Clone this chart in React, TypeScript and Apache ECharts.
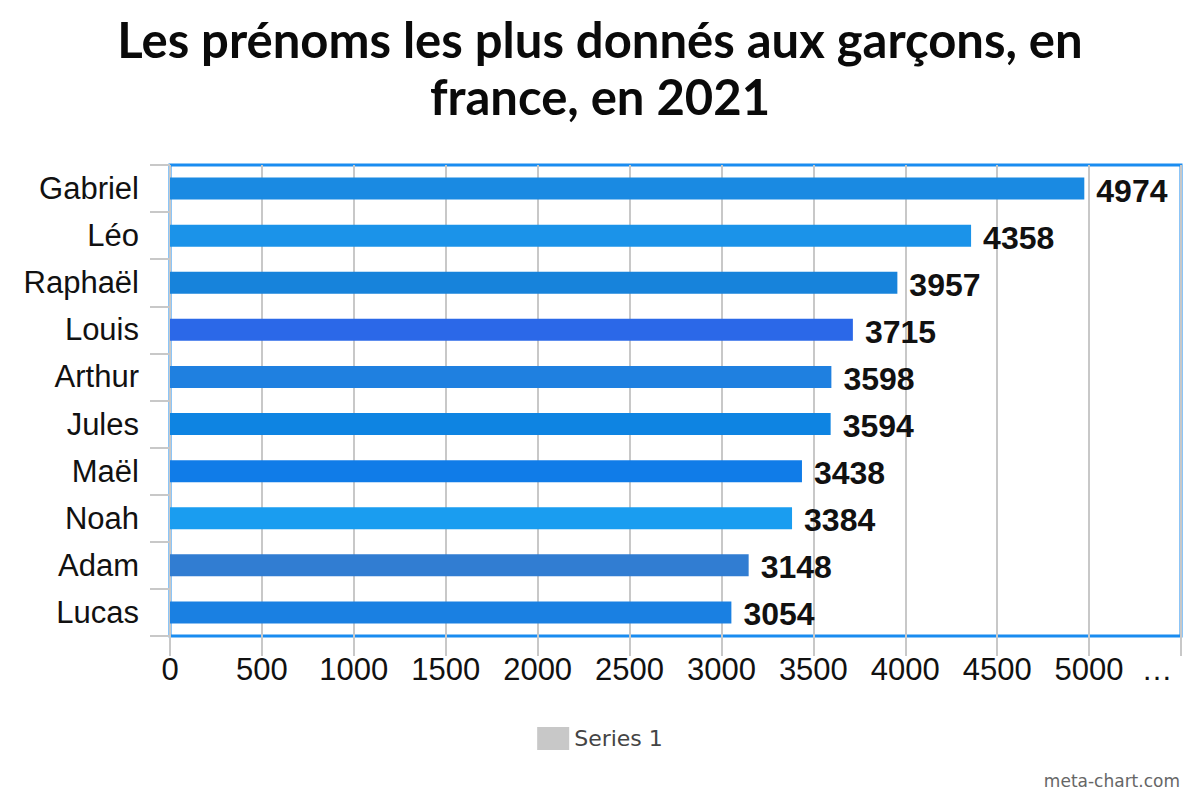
import React, { useEffect, useRef } from "react";
import * as echarts from "echarts";

const categories = ["Gabriel", "Léo", "Raphaël", "Louis", "Arthur", "Jules", "Maël", "Noah", "Adam", "Lucas"];
const values = [4974, 4358, 3957, 3715, 3598, 3594, 3438, 3384, 3148, 3054];
const barColors = ["#1a8ae2", "#1b93e9", "#1783db", "#2b68e8", "#1f80e0", "#0e84e2", "#107ce8", "#1a9df0", "#317dd2", "#1a80e2"];
const titleText = "Les prénoms les plus donnés aux garçons, en\nfrance, en 2021";
const seriesName = "Series 1";

export default function App() {
  const ref = useRef<HTMLDivElement>(null);
  useEffect(() => {
    document.body.style.margin = "0";
    const chart = echarts.init(ref.current!, null, { renderer: "svg" });
    chart.setOption({
      animation: false,
      backgroundColor: "#ffffff",
      title: {
        text: titleText,
        left: "center",
        top: 5,
        textStyle: {
          fontFamily: "Lato",
          fontWeight: "bold",
          fontSize: 49,
          lineHeight: 57,
          color: "#0a0a0a",
        },
      },
      legend: {
        bottom: 45,
        left: "center",
        icon: "rect",
        itemWidth: 32,
        itemHeight: 23,
        textStyle: { fontFamily: "DejaVu Sans", fontSize: 22, color: "#444444" },
        data: [seriesName],
      },
      grid: {
        left: 170,
        right: 19,
        top: 165,
        bottom: 164,
        show: true,
        borderColor: "#1a8cf0",
        borderWidth: 3,
        backgroundColor: "transparent",
      },
      xAxis: {
        type: "value",
        min: 0,
        max: 5500,
        interval: 500,
        axisLine: { show: false },
        axisTick: { show: true, length: 20, lineStyle: { color: "#c8c8c8", width: 2 } },
        splitLine: { show: true, lineStyle: { color: "#c8c8c8", width: 2 } },
        axisLabel: {
          fontFamily: "Liberation Sans",
          fontSize: 31,
          color: "#111111",
          margin: 18,
          showMaxLabel: true,
          formatter: (v: number) => (v === 5500 ? "{e|…}" : String(v)),
          rich: {
            e: { fontFamily: "Liberation Sans", fontSize: 31, color: "#111111", padding: [0, 48, 0, 0] },
          },
        },
      },
      yAxis: {
        type: "category",
        inverse: true,
        data: categories,
        axisLine: { show: false },
        axisTick: { show: true, length: 20, lineStyle: { color: "#c8c8c8", width: 2 } },
        axisLabel: {
          fontFamily: "Liberation Sans",
          fontSize: 31,
          color: "#111111",
          margin: 31,
        },
      },
      series: [
        {
          name: seriesName,
          type: "bar",
          barWidth: 22,
          itemStyle: { color: "#c8c8c8" },
          data: values.map((v, i) => ({ value: v, itemStyle: { color: barColors[i] } })),
          label: {
            show: true,
            position: "right",
            distance: 12,
            fontFamily: "Liberation Sans",
            fontWeight: "bold",
            fontSize: 32,
            color: "#111111",
            offset: [0, 2],
          },
        },
      ],
      graphic: [
        {
          type: "text",
          right: 20,
          top: 772,
          style: {
            text: "meta-chart.com",
            fontFamily: "DejaVu Sans",
            fontSize: 17,
            fill: "#666666",
          },
        },
      ],
    });
    return () => chart.dispose();
  }, []);
  return <div ref={ref} style={{ width: 1200, height: 800 }} />;
}
